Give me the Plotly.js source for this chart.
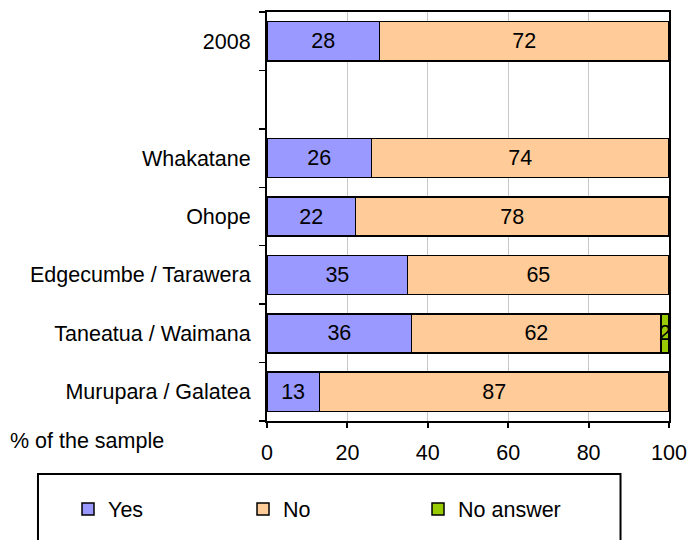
<!DOCTYPE html>
<html>
<head>
<meta charset="utf-8">
<script src="https://cdn.plot.ly/plotly-3.0.1.min.js"></script>
<style>html,body{margin:0;padding:0;background:#fff;}#chart{width:690px;height:540px;}</style>
</head>
<body>
<div id="chart"></div>
<script>
// Categories from bottom to top
const categories = ["Murupara / Galatea", "Taneatua / Waimana", "Edgecumbe / Tarawera", "Ohope", "Whakatane", " ", "2008"];
const yesValues = [13, 36, 35, 22, 26, null, 28];
const noValues = [87, 62, 65, 78, 74, null, 72];
const noAnswerValues = [null, 2, null, null, null, null, null];
const seriesNames = ["Yes", "No", "No answer"];
const xTicks = [0, 20, 40, 60, 80, 100];
const axisNote = "% of the sample";

const FONT = "Liberation Sans, Arial, sans-serif";
const FS = 21.5;
const colors = ["#9999FF", "#FFCC99", "#99CC00"];

function barTrace(vals, i) {
  return {
    type: "bar",
    orientation: "h",
    y: categories,
    x: vals,
    name: seriesNames[i],
    marker: {color: colors[i], line: {color: "#000", width: 1.5}},
    texttemplate: "%{x}",
    textposition: "inside",
    insidetextanchor: "middle",
    textangle: 0,
    constraintext: "none",
    textfont: {family: FONT, size: FS, color: "#000"},
    hoverinfo: "skip"
  };
}

const data = [barTrace(yesValues, 0), barTrace(noValues, 1), barTrace(noAnswerValues, 2)];

const layout = {
  width: 690, height: 540,
  margin: {l: 267, r: 21, t: 12, b: 118, pad: 0},
  barmode: "stack",
  bargap: 0.33,
  paper_bgcolor: "#fff",
  plot_bgcolor: "#fff",
  font: {family: FONT, size: FS, color: "#000"},
  showlegend: true,
  xaxis: {
    range: [0, 100],
    tickvals: xTicks,
    ticktext: xTicks.map(String),
    showgrid: true, gridcolor: "#c8c8c8", gridwidth: 1,
    zeroline: false,
    showline: true, linecolor: "#000", linewidth: 2, mirror: true,
    ticks: "outside", ticklen: 5, tickwidth: 2, tickcolor: "#000",
    ticklabelstandoff: 6,
    tickfont: {family: FONT, size: FS, color: "#000"},
    fixedrange: true
  },
  yaxis: {
    type: "category",
    categoryorder: "array",
    categoryarray: categories,
    showgrid: false,
    zeroline: false,
    showline: true, linecolor: "#000", linewidth: 2, mirror: true,
    ticks: "outside", tickson: "boundaries", ticklen: 6, tickwidth: 1.5, tickcolor: "#000",
    ticklabelstandoff: 10,
    tickfont: {family: FONT, size: FS, color: "#000"},
    fixedrange: true
  },
  legend: {
    orientation: "h",
    x: -0.495, xanchor: "left",
    y: -0.212, yanchor: "middle",
    entrywidth: 130, entrywidthmode: "pixels",
    font: {family: FONT, size: FS, color: "#000"},
    bgcolor: "rgba(0,0,0,0)",
    borderwidth: 0,
    traceorder: "normal"
  },
  shapes: [{
    type: "rect", xref: "paper", yref: "paper",
    x0: -0.5697, x1: 0.8794, y0: -0.1293, y1: -0.40,
    line: {color: "#000", width: 2}, fillcolor: "rgba(0,0,0,0)", layer: "below"
  }],
  annotations: [{
    xref: "paper", yref: "paper",
    x: -0.6443, xanchor: "left",
    y: -0.0488, yanchor: "middle",
    text: axisNote, showarrow: false,
    font: {family: FONT, size: FS, color: "#000"}
  }]
};

Plotly.newPlot("chart", data, layout, {displayModeBar: false, staticPlot: true});
</script>
</body>
</html>
